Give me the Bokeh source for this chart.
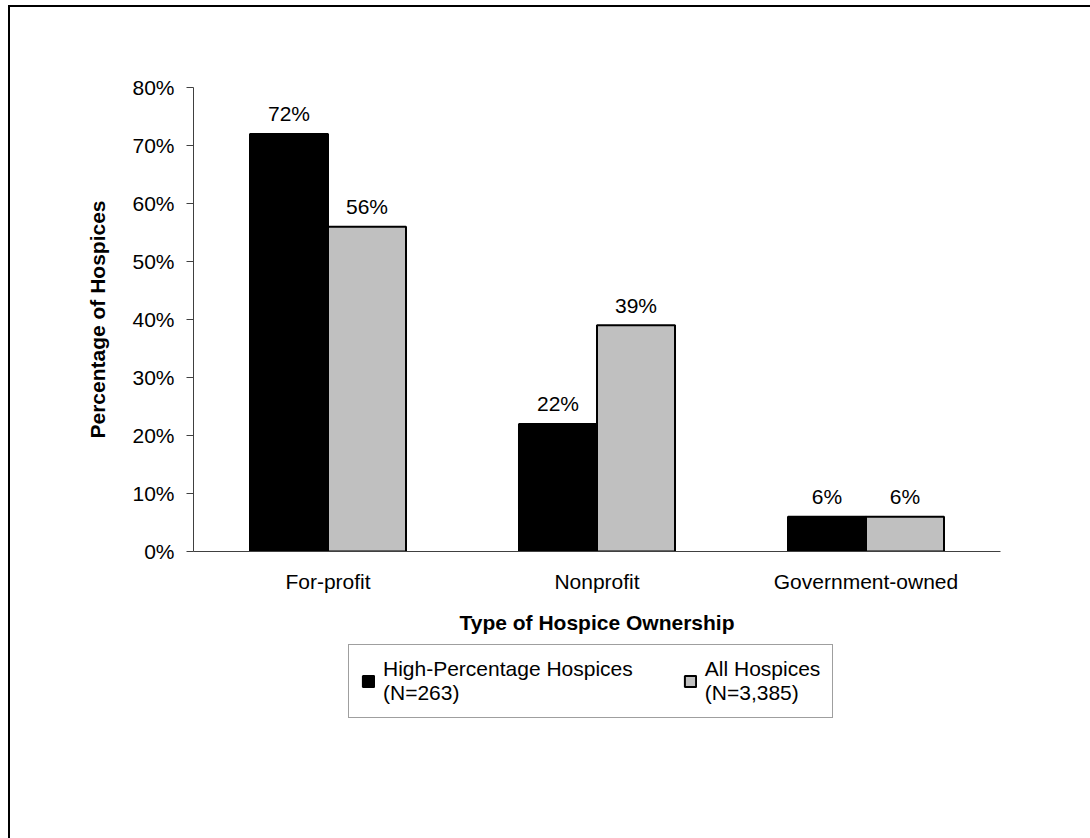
from bokeh.plotting import figure
from bokeh.models import (ColumnDataSource, FactorRange, Range1d, FixedTicker,
                          Legend, LegendItem)
from bokeh.layouts import column
from bokeh.transform import dodge
from bokeh.core.properties import value
from bokeh.embed import file_html
from bokeh.resources import INLINE

categories = ["For-profit", "Nonprofit", "Government-owned"]
high_pct = [72, 22, 6]
all_hosp = [56, 39, 6]
series_names = ["High-Percentage Hospices\n(N=263)", "All Hospices\n(N=3,385)"]
y_ticks = [0, 10, 20, 30, 40, 50, 60, 70, 80]
y_tick_labels = ["0%", "10%", "20%", "30%", "40%", "50%", "60%", "70%", "80%"]

FONT = "Liberation Sans"
FS = "21px"
BLACK = "black"
GRAY = "#C0C0C0"

src = ColumnDataSource(dict(
    cat=categories,
    high=high_pct,
    allh=all_hosp,
    high_lbl=[f"{v}%" for v in high_pct],
    all_lbl=[f"{v}%" for v in all_hosp],
))

fig = figure(x_range=FactorRange(*categories, range_padding=0),
             y_range=Range1d(0, 80),
             frame_width=807, frame_height=464,
             output_backend="svg", toolbar_location=None,
             min_border_left=183, min_border_right=90,
             min_border_top=80, min_border_bottom=90)

fig.xgrid.grid_line_color = None
fig.ygrid.grid_line_color = None
fig.outline_line_color = None
fig.background_fill_color = "white"
fig.border_fill_color = "white"

fig.vbar(x=dodge("cat", -0.145, range=fig.x_range), top="high", width=0.29,
         source=src, fill_color=BLACK, line_color="black", line_width=2)
fig.vbar(x=dodge("cat", 0.145, range=fig.x_range), top="allh", width=0.29,
         source=src, fill_color=GRAY, line_color="black", line_width=2)

for col, lbl, off in (("high", "high_lbl", -0.145), ("allh", "all_lbl", 0.145)):
    fig.text(x=dodge("cat", off, range=fig.x_range), y=col, text=lbl, source=src,
             text_font=value(FONT), text_font_size=FS, text_color="black",
             text_align="center", text_baseline="alphabetic", y_offset=-20)

# y axis
ya = fig.yaxis[0]
ya.ticker = FixedTicker(ticks=y_ticks)
ya.major_label_overrides = {t: l for t, l in zip(y_ticks, y_tick_labels)}
ya.minor_tick_line_color = None
ya.major_tick_out = 7
ya.major_tick_in = 0
ya.axis_line_color = "#404040"
ya.major_tick_line_color = "#404040"
ya.major_label_text_font = FONT
ya.major_label_text_font_size = FS
ya.major_label_text_color = "black"
ya.major_label_standoff = 12
ya.axis_label = "Percentage of Hospices"
ya.axis_label_text_font = FONT
ya.axis_label_text_font_size = FS
ya.axis_label_text_font_style = "bold"
ya.axis_label_text_color = "black"
ya.axis_label_standoff = 20

# x axis
xa = fig.xaxis[0]
xa.major_tick_out = 0
xa.major_tick_in = 0
xa.minor_tick_line_color = None
xa.axis_line_color = "#404040"
xa.major_label_text_font = FONT
xa.major_label_text_font_size = FS
xa.major_label_text_color = "black"
xa.major_label_standoff = 18
xa.axis_label = "Type of Hospice Ownership"
xa.axis_label_text_font = FONT
xa.axis_label_text_font_size = FS
xa.axis_label_text_font_style = "bold"
xa.axis_label_text_color = "black"
xa.axis_label_standoff = 15

# legend area (second canvas below the chart); its key glyphs reuse the
# series data, which lies outside this canvas's visible range
leg_fig = figure(x_range=Range1d(0, 1), y_range=Range1d(0, 1),
                 frame_width=1080, frame_height=197, min_border=0,
                 output_backend="svg", toolbar_location=None,
                 x_axis_location=None, y_axis_location=None)
leg_fig.xgrid.grid_line_color = None
leg_fig.ygrid.grid_line_color = None
leg_fig.outline_line_color = None
leg_fig.background_fill_color = "white"
leg_fig.border_fill_color = "white"

g1 = leg_fig.vbar(x="high", top="high", width=0.1, source=src,
                  fill_color=BLACK, line_color="black", line_width=2)
g2 = leg_fig.vbar(x="allh", top="allh", width=0.1, source=src,
                  fill_color=GRAY, line_color="black", line_width=2)

legend = Legend(items=[LegendItem(label=series_names[0], renderers=[g1]),
                       LegendItem(label=series_names[1], renderers=[g2])],
                orientation="horizontal", location=(338, 120),
                label_text_font=FONT, label_text_font_size=FS,
                label_text_color="black",
                glyph_width=14, glyph_height=14, label_standoff=8,
                spacing=50, padding=12, margin=0,
                border_line_color="#404040", border_line_width=1,
                background_fill_color="white", background_fill_alpha=1)
leg_fig.add_layout(legend, "center")

p = column(fig, leg_fig, spacing=0)
p.styles = {"margin-left": "8px", "margin-top": "5px",
            "border-left": "2px solid black", "border-top": "2px solid black"}

open("out.html", "w").write(file_html(p, INLINE))
